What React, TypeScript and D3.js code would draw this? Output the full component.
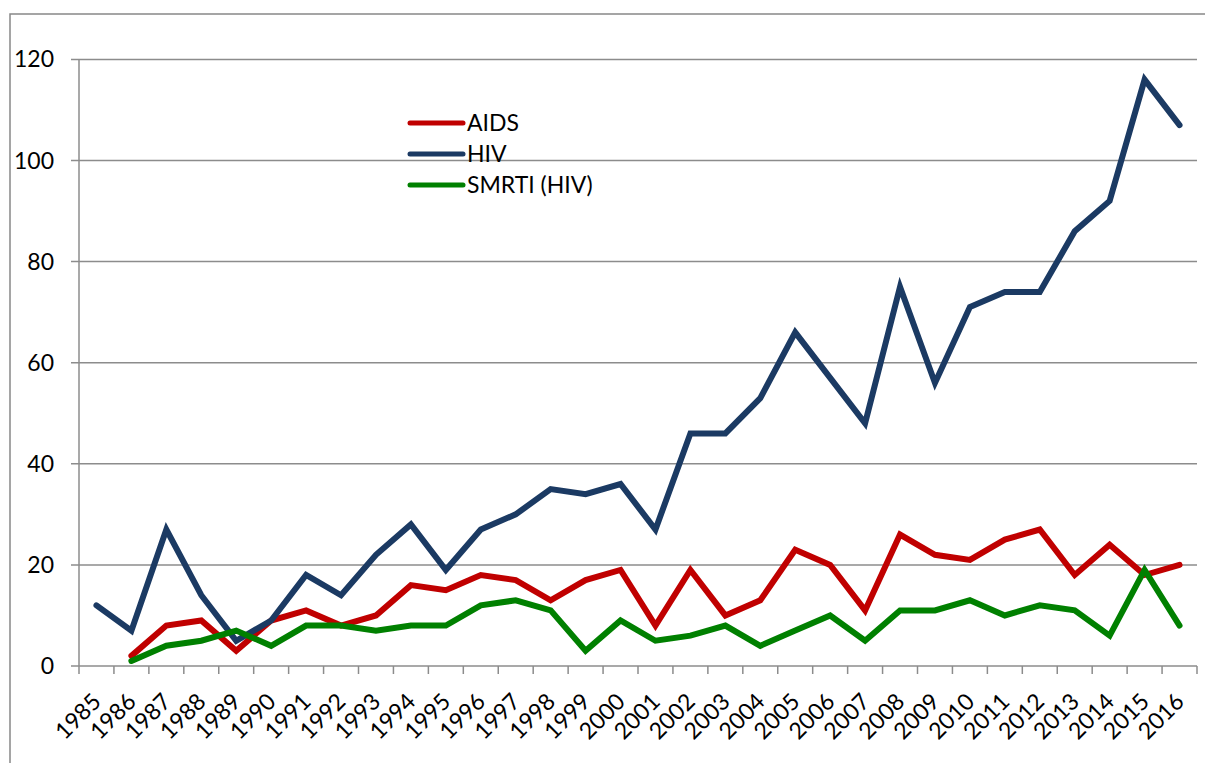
import React, { useRef, useEffect } from "react";
import * as d3 from "d3";

const years = [
  "1985", "1986", "1987", "1988", "1989", "1990", "1991", "1992", "1993", "1994",
  "1995", "1996", "1997", "1998", "1999", "2000", "2001", "2002", "2003", "2004",
  "2005", "2006", "2007", "2008", "2009", "2010", "2011", "2012", "2013", "2014",
  "2015", "2016",
];
// null = no value that year
const aids = [
  null, 2, 8, 9, 3, 9, 11, 8, 10, 16, 15, 18, 17, 13, 17, 19, 8, 19, 10, 13,
  23, 20, 11, 26, 22, 21, 25, 27, 18, 24, 18, 20,
];
const hiv = [
  12, 7, 27, 14, 5, 9, 18, 14, 22, 28, 19, 27, 30, 35, 34, 36, 27, 46, 46, 53,
  66, 57, 48, 75, 56, 71, 74, 74, 86, 92, 116, 107,
];
const smrti = [
  null, 1, 4, 5, 7, 4, 8, 8, 7, 8, 8, 12, 13, 11, 3, 9, 5, 6, 8, 4,
  7, 10, 5, 11, 11, 13, 10, 12, 11, 6, 19, 8,
];
const yTicks = [0, 20, 40, 60, 80, 100, 120];

const series = [
  { name: "AIDS", values: aids, color: "#C00000" },
  { name: "HIV", values: hiv, color: "#1B3A63" },
  { name: "SMRTI (HIV)", values: smrti, color: "#008000" },
];

const App = () => {
  const ref = useRef(null);
  const width = 1205;
  const height = 763;
  const left = 79;
  const right = 1197;
  const top = 59.4;
  const bottom = 666;
  const font = "Lato, 'Open Sans', sans-serif";
  const fontSize = 23;

  useEffect(() => {
    const svg = d3.select(ref.current);
    svg.selectAll("*").remove();

    const x = d3.scaleBand().domain(years).range([left, right]);
    const y = d3.scaleLinear().domain([0, 120]).range([bottom, top]);

    // outer border
    svg
      .append("rect")
      .attr("x", 10)
      .attr("y", 14)
      .attr("width", width + 20)
      .attr("height", height + 20)
      .attr("fill", "none")
      .attr("stroke", "#888")
      .attr("stroke-width", 1.5);

    // grid
    svg
      .append("g")
      .selectAll("line")
      .data(yTicks.filter(d => d > 0))
      .enter()
      .append("line")
      .attr("x1", left - 8)
      .attr("x2", right)
      .attr("y1", d => y(d))
      .attr("y2", d => y(d))
      .attr("stroke", "#8c8c8c")
      .attr("stroke-width", 1.5);

    // y axis
    svg
      .append("line")
      .attr("x1", left)
      .attr("x2", left)
      .attr("y1", y(120))
      .attr("y2", bottom)
      .attr("stroke", "#8c8c8c")
      .attr("stroke-width", 1.5);
    svg
      .append("g")
      .selectAll("text")
      .data(yTicks)
      .enter()
      .append("text")
      .attr("x", 54)
      .attr("y", d => y(d))
      .attr("dy", "0.35em")
      .attr("text-anchor", "end")
      .attr("font-family", font)
      .attr("font-size", fontSize)
      .attr("fill", "#000")
      .text(d => d);

    // x axis
    svg
      .append("line")
      .attr("x1", left - 8)
      .attr("x2", right)
      .attr("y1", bottom)
      .attr("y2", bottom)
      .attr("stroke", "#8c8c8c")
      .attr("stroke-width", 1.5);
    const tickX = years.map(d => x(d)).concat([right]);
    svg
      .append("g")
      .selectAll("line")
      .data(tickX)
      .enter()
      .append("line")
      .attr("x1", d => d)
      .attr("x2", d => d)
      .attr("y1", bottom)
      .attr("y2", bottom + 8)
      .attr("stroke", "#8c8c8c")
      .attr("stroke-width", 1.5);
    svg
      .append("g")
      .selectAll("text")
      .data(years)
      .enter()
      .append("text")
      .attr("transform", d => `translate(${x(d) + x.bandwidth() / 2 + 6},${bottom + 37}) rotate(-45)`)
      .attr("text-anchor", "end")
      .attr("font-family", font)
      .attr("font-size", fontSize)
      .attr("fill", "#000")
      .text(d => d);

    // lines
    const line = d3
      .line()
      .defined(d => d[1] != null)
      .x(d => x(d[0]) + x.bandwidth() / 2)
      .y(d => y(d[1]));
    svg
      .append("g")
      .selectAll("path")
      .data(series)
      .enter()
      .append("path")
      .attr("d", s => line(years.map((yr, i) => [yr, s.values[i]])))
      .attr("fill", "none")
      .attr("stroke", s => s.color)
      .attr("stroke-width", 6)
      .attr("stroke-linejoin", "miter")
      .attr("stroke-linecap", "round");

    // legend
    const legend = svg
      .append("g")
      .selectAll("g")
      .data(series)
      .enter()
      .append("g")
      .attr("transform", (d, i) => `translate(408,${123 + i * 31})`);
    legend
      .append("line")
      .attr("x1", 2)
      .attr("x2", 55)
      .attr("stroke", d => d.color)
      .attr("stroke-width", 5)
      .attr("stroke-linecap", "round");
    legend
      .append("text")
      .attr("x", 59)
      .attr("dy", "0.35em")
      .attr("font-family", font)
      .attr("font-size", fontSize)
      .attr("fill", "#000")
      .text(d => d.name);
  }, []);

  return (
    <div>
      <style>{"body{margin:0}"}</style>
      <svg ref={ref} width={width} height={height} style={{ display: "block", background: "#fff" }} />
    </div>
  );
};

export default App;
